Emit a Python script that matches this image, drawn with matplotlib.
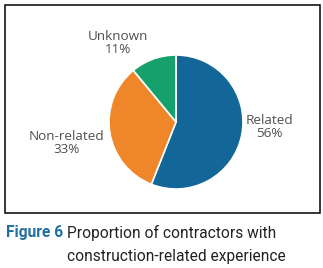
import matplotlib.pyplot as plt
from matplotlib.patches import Rectangle

# data
categories = ["Related", "Non-related", "Unknown"]
shares = [56, 33, 11]
colors = ["#136798", "#f0862a", "#16a06c"]

W, H = 323, 268
fig = plt.figure(figsize=(W / 100, H / 100), dpi=100)

cap_font = "Roboto"
lab_font = "Open Sans"

# frame around the chart
fig.patches.append(Rectangle((5 / W, (H - 213) / H), 315 / W, 208 / H,
                             transform=fig.transFigure, fill=False,
                             edgecolor="black", linewidth=1.1))

# pie axes: centre (176,122) px, radius 67 px
cx, cy, r = 176, 122, 67
ax = fig.add_axes([(cx - r) / W, (H - cy - r) / H, 2 * r / W, 2 * r / H])
wedges, texts = ax.pie(shares, colors=colors, startangle=90, counterclock=False,
                       labels=[f"{c}\n{s}%" for c, s in zip(categories, shares)],
                       wedgeprops=dict(edgecolor="white", linewidth=1.2),
                       textprops=dict(fontsize=9.7, color="#505050", family=lab_font,
                                      linespacing=1.0))
ax.set_xlim(-1, 1)
ax.set_ylim(-1, 1)
ax.set_aspect("equal")
ax.axis("off")

# label positions (in radii)
label_pos = [(1.40, -0.07), (-1.63, -0.31), (-0.87, 1.18)]
for t, p in zip(texts, label_pos):
    t.set_position(p)
    t.set_ha("center")
    t.set_va("center")

# caption
fig.text(6 / W, 1 - 233 / H, "Figure 6", fontsize=11.2, fontweight="bold",
         color="#1f6fa0", family=cap_font, va="center")
fig.text(67 / W, 1 - 233 / H, "Proportion of contractors with", fontsize=11.2,
         color="#222222", family=cap_font, va="center")
fig.text(67 / W, 1 - 257 / H, "construction-related experience", fontsize=11.2,
         color="#222222", family=cap_font, va="center")

fig.savefig("out.png", dpi=100)
